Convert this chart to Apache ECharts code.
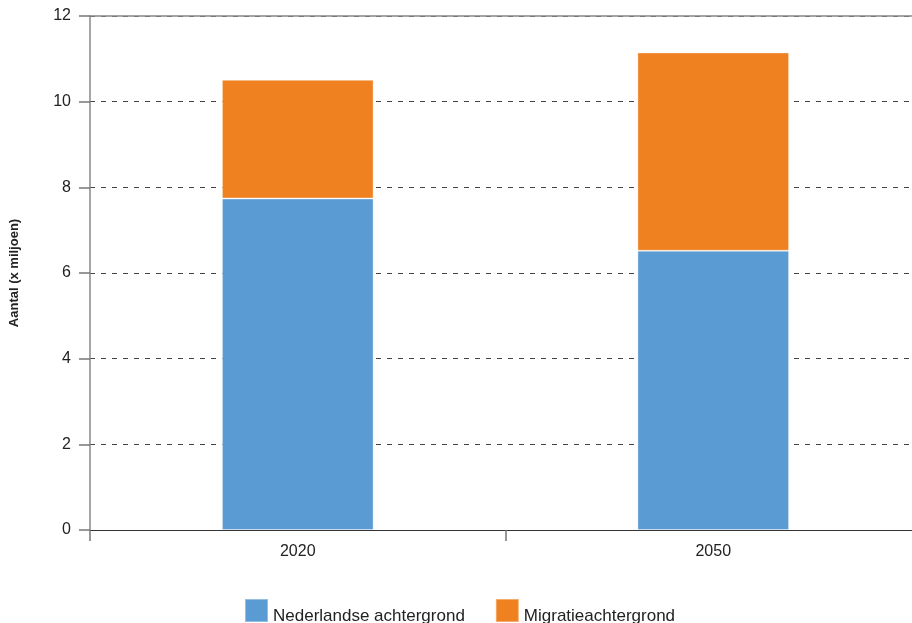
<!DOCTYPE html>
<html>
<head>
<meta charset="utf-8">
<script src="https://cdn.jsdelivr.net/npm/echarts@6/dist/echarts.min.js"></script>
<style>
  html, body { margin: 0; padding: 0; background: #fff; overflow: hidden; }
  /* the plot runs a few pixels past the right edge in the source, so the
     chart is a bit wider than the window and gets cut off */
  #chart { width: 921px; height: 623px; }
</style>
</head>
<body>
<div id="chart"></div>
<script>
const years = ['2020', '2050']
const nederlands = [7.74, 6.52]
const migratie = [2.77, 4.63]
const yTicks = [0, 2, 4, 6, 8, 10, 12]

const font = 'Liberation Sans, Arial, sans-serif'
const chart = echarts.init(document.getElementById('chart'))
const option = {
  animation: false,
  textStyle: { fontFamily: font },
  grid: { left: 89, top: 16, right: 0, bottom: 93 },
  legend: {
    top: 598,
    left: 244,
    padding: 0,
    itemWidth: 23,
    itemHeight: 23,
    itemGap: 30,
    icon: 'rect',
    // text sits low next to the swatch, baseline level with its bottom
    formatter: '{t|{name}}',
    textStyle: {
      fontSize: 17,
      color: '#222',
      rich: { t: { fontSize: 17, color: '#222', fontFamily: font, padding: [12, 0, 0, 0] } },
    },
    data: ['Nederlandse achtergrond', 'Migratieachtergrond'],
  },
  xAxis: [
    {
      type: 'category',
      data: years,
      axisLine: { lineStyle: { color: '#333', width: 1.2 } },
      axisTick: { show: true, length: 11, lineStyle: { color: '#777', width: 1.5 } },
      axisLabel: { fontSize: 16, color: '#222', margin: 14 },
    },
    {
      type: 'category',
      data: years,
      position: 'top',
      axisLine: { show: true, lineStyle: { color: '#888', width: 1.5 } },
      axisTick: { show: false },
      axisLabel: { show: false },
    },
  ],
  yAxis: {
    type: 'value',
    min: yTicks[0],
    max: yTicks[yTicks.length - 1],
    interval: 2,
    name: 'Aantal (x miljoen)',
    nameLocation: 'middle',
    nameGap: 69,
    nameTextStyle: { fontSize: 13, fontWeight: 'bold', color: '#222' },
    axisLine: { show: true, lineStyle: { color: '#888', width: 1.5 } },
    axisTick: { show: true, length: 11, lineStyle: { color: '#777', width: 1.5 } },
    axisLabel: { fontSize: 16, color: '#222', margin: 19 },
    splitLine: { lineStyle: { type: [5, 6], color: '#444', width: 1 } },
  },
  series: [
    {
      name: 'Nederlandse achtergrond',
      type: 'bar',
      stack: 'totaal',
      barWidth: '36.5%',
      data: nederlands,
      itemStyle: { color: '#5b9bd3', borderColor: 'rgba(255,255,255,0.35)', borderWidth: 1 },
    },
    {
      name: 'Migratieachtergrond',
      type: 'bar',
      stack: 'totaal',
      data: migratie,
      itemStyle: { color: '#ef8121', borderColor: 'rgba(255,255,255,0.35)', borderWidth: 1 },
    },
  ],
}
chart.setOption(option)
</script>
</body>
</html>
